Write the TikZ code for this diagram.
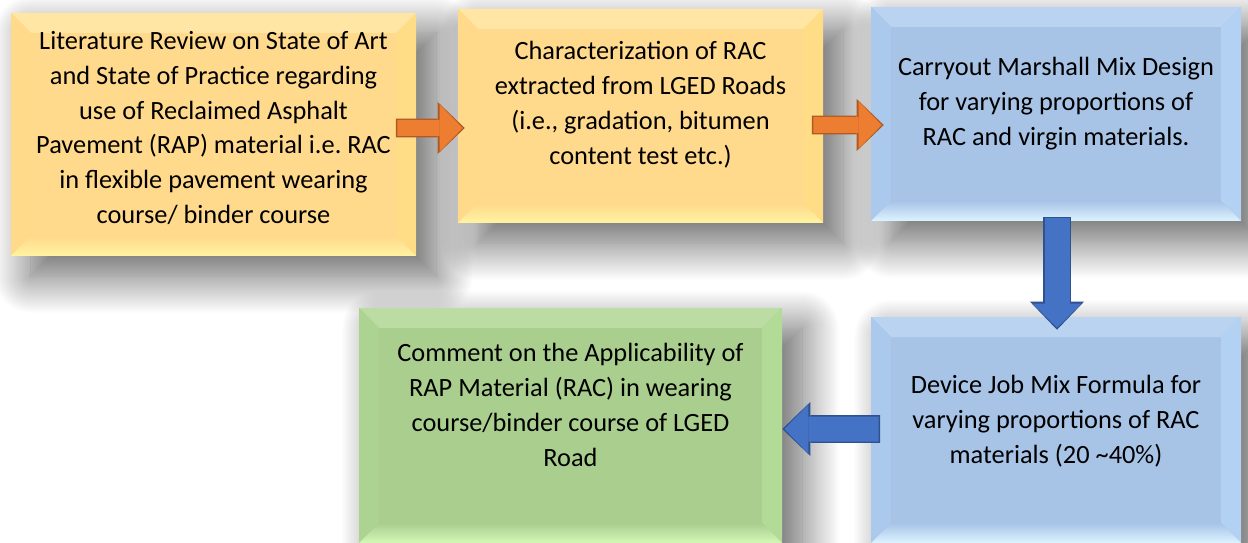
\documentclass[tikz,border=0pt]{standalone}
\usepackage{fontspec}
\setmainfont{Carlito}
\usetikzlibrary{arrows.meta,shadows.blur}

\definecolor{yelbody}{HTML}{FFD98C}
\definecolor{yeltop}{HTML}{FFE6A4}
\definecolor{yelbot}{HTML}{FFF4A2}
\definecolor{yelside}{HTML}{FFDC86}
\definecolor{blubody}{HTML}{A7C4E7}
\definecolor{blutop}{HTML}{B9D3F1}
\definecolor{blubot}{HTML}{DDF3FF}
\definecolor{bluside}{HTML}{B2D1F3}
\definecolor{grnbody}{HTML}{A9CE8E}
\definecolor{grntop}{HTML}{BBDDA3}
\definecolor{grnbot}{HTML}{D4F8B6}
\definecolor{grnside}{HTML}{B3DB98}
\definecolor{arrorange}{HTML}{ED7D31}
\definecolor{arrorangedk}{HTML}{AE5A21}
\definecolor{arrblue}{HTML}{4472C4}
\definecolor{arrbluedk}{HTML}{2F528F}

\newcommand{\bev}{0.4cm}

\tikzset{
  bevel/.style n args={4}{fill=#1,
    blur shadow={shadow xshift=0.4cm, shadow yshift=-0.4cm, shadow blur radius=0.75cm,
      shadow blur steps=40, shadow opacity=62},
    path picture={
      \path (path picture bounding box.north west) coordinate (nw)
            (path picture bounding box.north east) coordinate (ne)
            (path picture bounding box.south west) coordinate (sw)
            (path picture bounding box.south east) coordinate (se);
      \fill[#2] (nw) -- (ne) -- ([shift={(-\bev,-\bev)}]ne) -- ([shift={(\bev,-\bev)}]nw) -- cycle;
      \fill[#4] (ne) -- (se) -- ([shift={(-\bev,\bev)}]se) -- ([shift={(-\bev,-\bev)}]ne) -- cycle;
      \fill[#4!40!#1] (nw) -- (sw) -- ([shift={(\bev,\bev)}]sw) -- ([shift={(\bev,-\bev)}]nw) -- cycle;
      \shade[top color=#1, bottom color=#3] (sw) -- (se) -- ([shift={(-\bev,\bev)}]se) -- ([shift={(\bev,\bev)}]sw) -- cycle;
    }},
  yelbox/.style={bevel={yelbody}{yeltop}{yelbot}{yelside}},
  blubox/.style={bevel={blubody}{blutop}{blubot}{bluside}},
  grnbox/.style={bevel={grnbody}{grntop}{grnbot}{grnside}},
  orangearrow/.style={draw=arrorange, line width=0.32cm,
    -{Triangle[width=0.94cm, length=0.46cm, line width=0pt]},
    preaction={draw=arrorangedk, line width=0.32cm+1.7pt, shorten <=-0.85pt, shorten >=-1.2pt,
      -{Triangle[width=0.94cm+3pt, length=0.46cm+2.4pt, line width=0pt]}}},
  bluearrow/.style={draw=arrblue, line width=0.5cm,
    -{Triangle[width=0.98cm, length=0.48cm, line width=0pt]},
    preaction={draw=arrbluedk, line width=0.5cm+1.7pt, shorten <=-0.85pt, shorten >=-1.2pt,
      -{Triangle[width=0.98cm+3pt, length=0.48cm+2.4pt, line width=0pt]}}}
}

\begin{document}
\begin{tikzpicture}[align=center, font=\fontsize{15}{19.9}\selectfont]
  \useasboundingbox (0,0) rectangle (24.96,-10.86);
  \path  (4.27,-2.69)   node[yelbox, minimum width=8.10cm, minimum height=4.86cm] (b1) {}
          ++(8.54,0.37)  node[yelbox, minimum width=7.30cm, minimum height=4.28cm] (b2) {}
          ++(8.31,0.04)  node[blubox, minimum width=7.40cm, minimum height=4.28cm] (b3) {}
          ++(0,-6.32)    node[blubox, minimum width=7.40cm, minimum height=4.52cm] (b4) {}
          ++(-9.71,0.09) node[grnbox, minimum width=8.46cm, minimum height=4.70cm] (b5) {};
  \path  ([yshift=0.13cm]b1.center) node (t1) {Literature Review on State of Art\\ and State of Practice regarding\\ use of Reclaimed Asphalt\\ Pavement (RAP) material i.e.\ RAC\\ in flexible pavement wearing\\ course/ binder course}
         ([yshift=0.23cm]b2.center) node (t2) {Characterization of RAC\\ extracted from LGED Roads\\ (i.e., gradation, bitumen\\ content test etc.)}
         ([yshift=0.20cm]b3.center) node (t3) {Carryout Marshall Mix Design\\ for varying proportions of\\ RAC and virgin materials.}
         ([yshift=0.17cm]b4.center) node (t4) {Device Job Mix Formula for\\ varying proportions of RAC\\ materials (20 \textasciitilde40\%)}
         ([yshift=0.41cm]b5.center) node (t5) {Comment on the Applicability of\\ RAP Material (RAC) in wearing\\ course/binder course of LGED\\ Road};
  \draw [orangearrow] ([shift={(-0.38,0.13)}]b1.east) -- ([shift={(0.10,-0.24)}]b2.west);
  \draw [orangearrow] ([shift={(-0.20,-0.18)}]b2.east) -- ([shift={(0.22,-0.22)}]b3.west);
  \draw [bluearrow] ([shift={(0.02,0.06)}]b3.south) -- ([shift={(0.02,-0.22)}]b4.north);
  \draw [bluearrow] ([shift={(0.16,0.02)}]b4.west) -- ([shift={(0.04,-0.07)}]b5.east);
\end{tikzpicture}
\end{document}
